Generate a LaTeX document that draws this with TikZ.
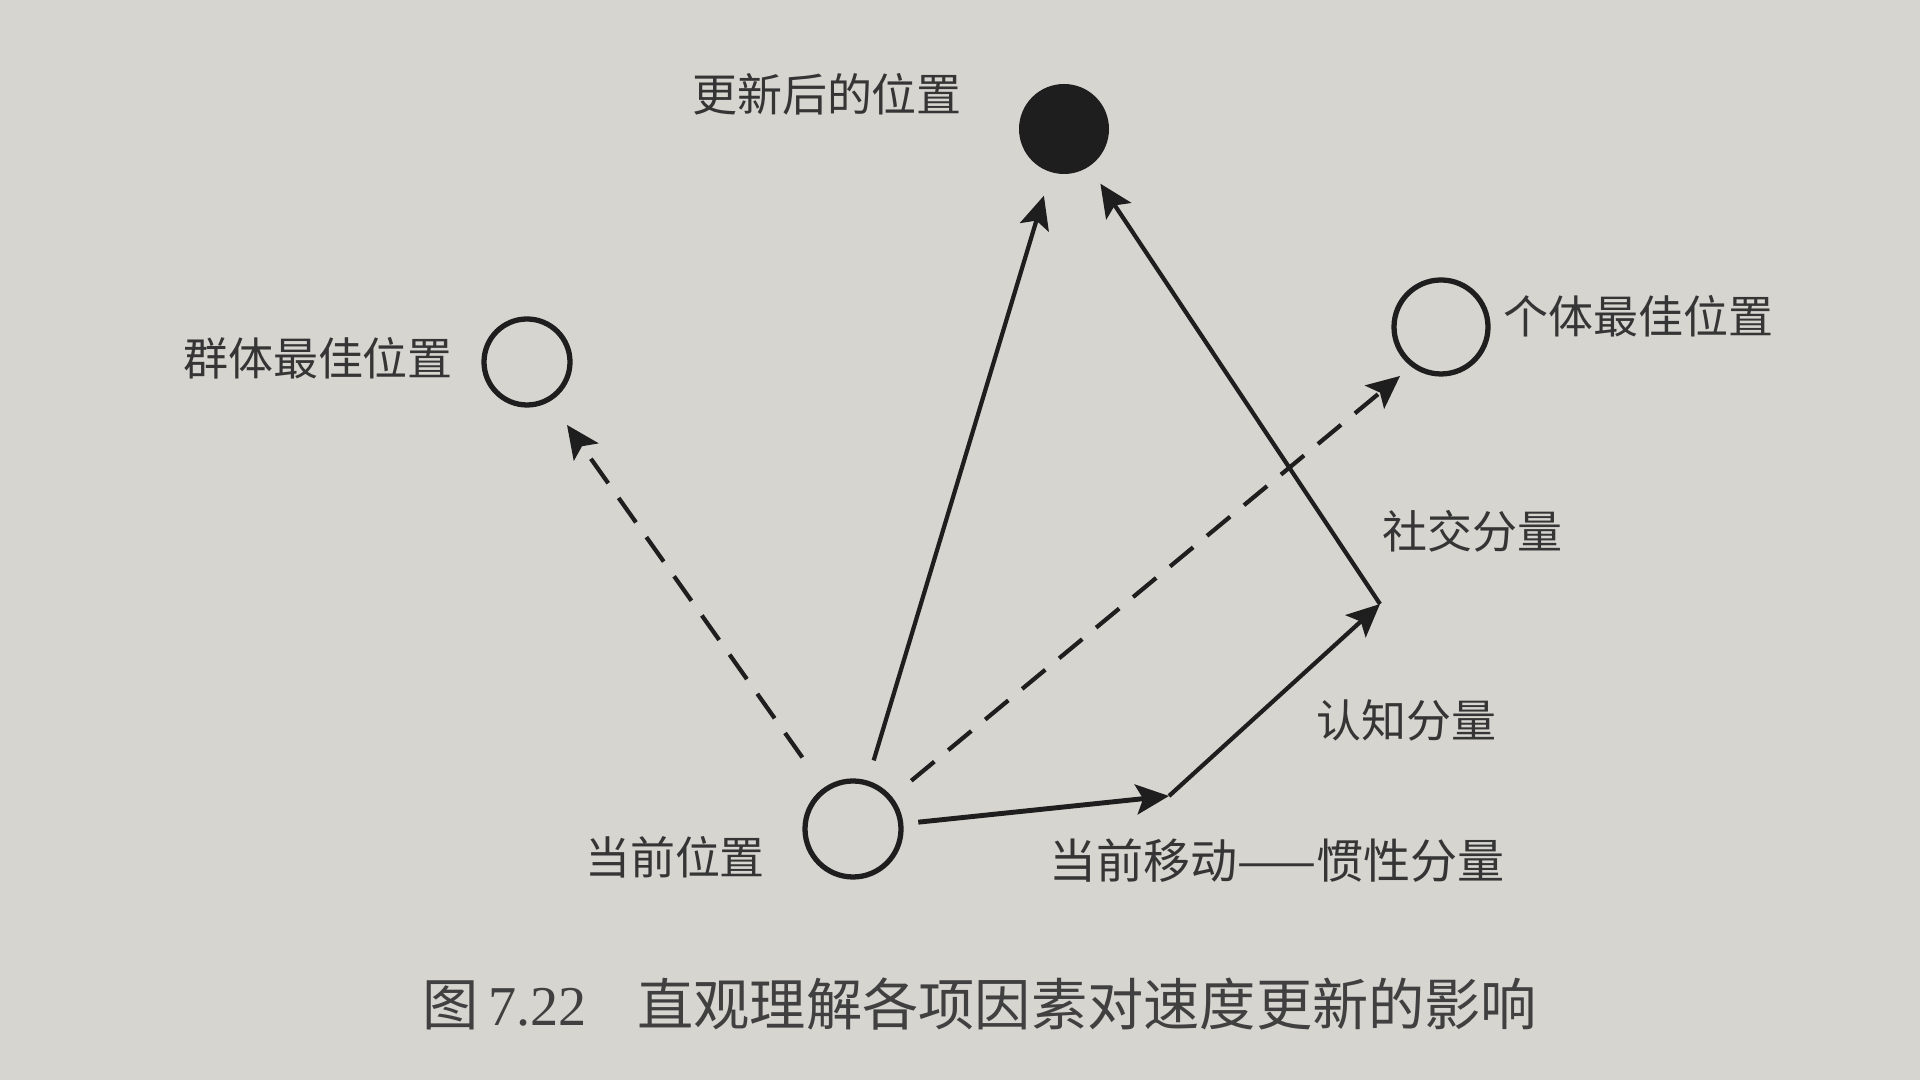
\documentclass[tikz,border=0pt]{standalone}
\usepackage{fontspec}
\setmainfont{Liberation Serif}
\newfontfamily\cjk{Noto Sans CJK SC}
\usetikzlibrary{arrows.meta}
\definecolor{paper}{RGB}{214,213,208}
\definecolor{ink}{RGB}{30,30,30}
\begin{document}
\begin{tikzpicture}[
  ring/.style={circle, draw=ink, line width=1.5pt, inner sep=0pt},
  lbl/.style={text=ink!90, font=\cjk\fontsize{12.8pt}{14pt}\selectfont, inner sep=0pt},
  vec/.style={draw=ink, line width=1.2pt, -{Stealth[length=0.33cm,width=0.3cm,inset=0.07cm]}},
  dvec/.style={vec, dash pattern=on 0.3cm off 0.18cm}
]
\fill[paper] (0,0) rectangle (19.2,10.8);
\useasboundingbox (0,0) rectangle (19.2,10.8);

% circles
\node[circle, fill=ink, inner sep=0pt, minimum size=0.9cm] (upd) at (10.64,9.51) {};
\node[ring, minimum size=0.86cm] (gb) at (5.27,7.18) {};
\node[ring, minimum size=0.94cm] (ib) at (14.41,7.53) {};
\node[ring, minimum size=0.96cm] (cur) at (8.53,2.51) {};

% junctions and free ends
\coordinate (j1) at (11.69,2.84);
\coordinate (j2) at (13.80,4.76);
\coordinate (gbtip) at (5.67,6.55);
\coordinate (ibtip) at (14.00,7.04);

% labels
\node[lbl] (lupd) at (8.27,9.86) {更新后的位置};
\node[lbl] (lgb) at (3.18,7.22) {群体最佳位置};
\node[lbl] (lib) at (16.38,7.64) {个体最佳位置};
\node[lbl] (lcur) at (6.75,2.23) {当前位置};
\node[lbl, font=\cjk\fontsize{13.4pt}{15pt}\selectfont] (lin) at (12.77,2.19) {当前移动——惯性分量};
\node[lbl] (lcog) at (14.06,3.60) {认知分量};
\node[lbl] (lsoc) at (14.72,5.49) {社交分量};

% connectors
\draw[dvec, shorten <=0.37cm] (cur) -- (gbtip);
\draw[dvec, shorten <=0.25cm] (cur) -- (ibtip);
\draw[vec, shorten <=0.21cm, shorten >=0.24cm] (cur) -- (upd);
\draw[vec, line width=1.4pt, shorten <=0.15cm] (cur) -- (j1);
\draw[vec] (j1) -- (j2);
\draw[vec, shorten >=0.2cm] (j2) -- (upd);

% caption
\node[text=ink!85, inner sep=0pt] (cap) at (9.80,0.76)
  {\fontsize{16pt}{18pt}\selectfont{\cjk 图}\,7.22\hspace{0.9em}{\cjk 直观理解各项因素对速度更新的影响}};
\end{tikzpicture}
\end{document}
